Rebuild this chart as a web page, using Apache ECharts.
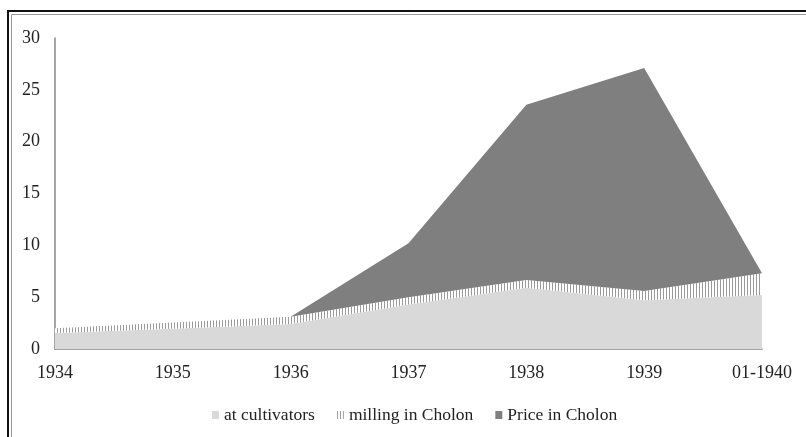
<!DOCTYPE html>
<html>
<head>
<meta charset="utf-8">
<script src="https://cdn.jsdelivr.net/npm/echarts@6/dist/echarts.min.js"></script>
<style>
  html, body { margin: 0; padding: 0; background: #fff; }
  #main { width: 806px; height: 437px; }
</style>
</head>
<body>
<div id="main"></div>
<script>
// data
var years = ["1934", "1935", "1936", "1937", "1938", "1939", "01-1940"];
var atCultivators = [1.55, 1.95, 2.4, 4.3, 5.9, 4.7, 5.2];
var millingCholon = [0.45, 0.6, 0.7, 0.7, 0.75, 0.9, 2.1];
var priceCholon = [0, 0, 0, 5.2, 16.9, 21.5, 0];

// vertical hatch for the milling series
var hatch = document.createElement("canvas");
hatch.width = 3;
hatch.height = 4;
var hctx = hatch.getContext("2d");
hctx.fillStyle = "#ffffff";
hctx.fillRect(0, 0, 3, 4);
hctx.fillStyle = "#9a9a9a";
hctx.fillRect(0, 0, 1, 4);

var font = "'Liberation Serif', serif";
var chart = echarts.init(document.getElementById("main"));

var option = {
  animation: false,
  backgroundColor: "#fff",
  textStyle: { fontFamily: font },
  graphic: [
    { type: "rect", shape: { x: 8, y: 11, width: 820, height: 440 },
      style: { fill: "none", stroke: "#111", lineWidth: 2 }, silent: true },
    { type: "rect", shape: { x: 11.5, y: 14.5, width: 820, height: 440 },
      style: { fill: "none", stroke: "#999", lineWidth: 1 }, silent: true }
  ],
  grid: { left: 55, right: 44, top: 38, bottom: 88 },
  legend: {
    top: 401,
    left: 207,
    icon: "rect",
    itemWidth: 7,
    itemHeight: 8,
    itemGap: 22,
    textStyle: { fontFamily: font, fontSize: 17.5, color: "#222" },
    data: ["at cultivators", "milling in Cholon", "Price in Cholon"]
  },
  xAxis: {
    type: "category",
    boundaryGap: false,
    data: years,
    axisLine: { lineStyle: { color: "#888", width: 1.5 } },
    axisTick: { show: false },
    axisLabel: { fontFamily: font, fontSize: 18, color: "#222", margin: 15 }
  },
  yAxis: {
    type: "value",
    min: 0,
    max: 30,
    interval: 5,
    splitLine: { show: false },
    axisLine: { show: true, lineStyle: { color: "#888", width: 1.5 } },
    axisTick: { show: false },
    axisLabel: { fontFamily: font, fontSize: 18, color: "#222", margin: 15 }
  },
  series: [
    {
      name: "at cultivators",
      type: "line",
      stack: "rice",
      data: atCultivators,
      symbol: "none",
      lineStyle: { width: 0 },
      itemStyle: { color: "#d9d9d9" },
      areaStyle: { color: "#d9d9d9", opacity: 1 }
    },
    {
      name: "milling in Cholon",
      type: "line",
      stack: "rice",
      data: millingCholon,
      symbol: "none",
      lineStyle: { width: 0 },
      itemStyle: { color: { image: hatch, repeat: "repeat" } },
      areaStyle: { color: { image: hatch, repeat: "repeat" }, opacity: 1 }
    },
    {
      name: "Price in Cholon",
      type: "line",
      stack: "rice",
      data: priceCholon,
      symbol: "none",
      lineStyle: { width: 0 },
      itemStyle: { color: "#7f7f7f" },
      areaStyle: { color: "#7f7f7f", opacity: 1 }
    }
  ]
};

chart.setOption(option);
</script>
</body>
</html>
